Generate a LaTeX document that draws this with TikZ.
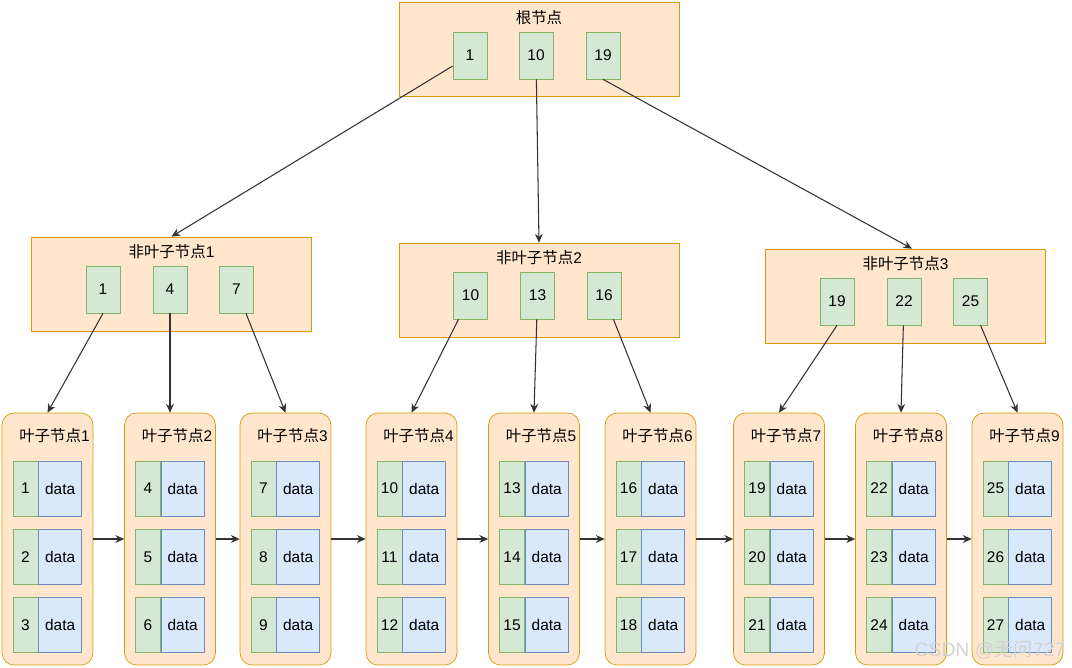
\documentclass[tikz,border=0pt]{standalone}
\usepackage{fontspec}
\setmainfont{Liberation Sans}
\newfontfamily\cjk{Noto Sans CJK SC}
\usetikzlibrary{arrows.meta}
\usetikzlibrary{positioning}
\definecolor{boxfill}{HTML}{FFE6CC}
\definecolor{boxline}{HTML}{D79B00}
\definecolor{keyfill}{HTML}{D5E8D4}
\definecolor{keyline}{HTML}{82B366}
\definecolor{datafill}{HTML}{DAE8FC}
\definecolor{dataline}{HTML}{6C8EBF}
\tikzset{inner/.style = {draw=boxline, fill=boxfill, minimum width=5.6cm, minimum height=1.88cm},
         leaf/.style = {draw=boxline, fill=boxfill, rounded corners=0.24cm,
                        minimum width=1.82cm, minimum height=5.04cm},
         key/.style = {draw=keyline, fill=keyfill, inner sep=0pt,
                       minimum width=0.68cm, minimum height=0.94cm},
         lkey/.style = {draw=keyline, fill=keyfill, inner sep=0pt,
                        minimum width=0.5cm, minimum height=1.1cm},
         ldata/.style = {draw=dataline, fill=datafill, inner sep=0pt,
                         minimum width=0.86cm, minimum height=1.1cm},
         link/.style = {-{Stealth[length=5pt, width=4.5pt]}, draw=black!80, line width=0.6pt}}

\begin{document}
\begin{tikzpicture}[x=0.02cm, y=-0.02cm, font=\fontsize{8.8}{10}\selectfont]
    \useasboundingbox (0, 0) rectangle (1072, 667);

    % root node
    \node [inner] (root) at (539, 49) {};
    \node (roottitle) at (539, 18) {\cjk 根节点};
    \foreach \k/\x in {1/470, 10/536, 19/603}
      \node [key] (r\k) at (\x, 55.5) {\k};

    % non-leaf nodes
    \foreach \n/\x/\y in {1/171.5/284, 2/539/290, 3/905.5/296} {
      \node [inner] (n\n) at (\x, \y) {};
      \node (n\n title) at (\x, \y - 32) {{\cjk 非叶子节点}\n};
      \foreach \j/\dx in {0/-68.5, 1/-1.5, 2/65} {
        \pgfmathtruncatemacro{\k}{9*(\n-1) + 3*\j + 1}
        \node [key] (k\k) at (\x + \dx, \y + 5.5) {\k};
      }
    }

    % leaf nodes
    \foreach \i/\x in {1/47.5, 2/170, 3/285.5, 4/411.5, 5/534, 6/650.5, 7/779, 8/901, 9/1017.5} {
      \node [leaf] (l\i) at (\x, 539) {};
      \node (l\i title) at (\x + 7, 436) {{\cjk 叶子节点}\i};
      \foreach \j/\y in {0/488.5, 1/557, 2/625} {
        \pgfmathtruncatemacro{\e}{3*(\i-1) + \j + 1}
        \node [lkey] (e\e) at (\x - 22, \y) {\e};
        \node [ldata, right=0pt of e\e] (d\e) {data};
      }
    }

    % links
    \draw [link] (r1) -- (n1.north);
    \draw [link] (r10) -- (n2.north);
    \draw [link] (r19.south) -- ([xshift=0.13cm]n3.north);
    \draw [link] (k1.south) -- (l1.north);
    \draw [link] (k19.south) -- (l7.north);
    \foreach \k/\l in {4/2, 7/3, 10/4, 13/5, 16/6, 22/8, 25/9}
      \draw [link] (k\k) -- (l\l.north);
    \foreach \i [evaluate=\i as \j using int(\i+1)] in {1,...,8}
      \draw [link] (l\i) -- (l\j);

    \node [text=gray!35, font=\fontsize{11}{12}\selectfont] (mark) at (990, 650) {CSDN @{\cjk 无问}727};
\end{tikzpicture}
\end{document}
